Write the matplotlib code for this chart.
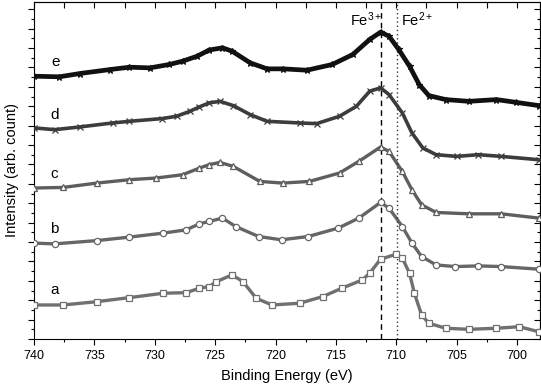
"""Fe 2p XPS spectra of samples a-e, stacked."""
import matplotlib.pyplot as plt
from matplotlib.ticker import MultipleLocator, NullFormatter

plt.rcParams["font.family"] = ["Liberation Sans", "DejaVu Sans"]
plt.rcParams["mathtext.default"] = "regular"

# binding energy (eV) and intensity (arb., offset)
be_a = [740.0, 737.6, 734.8, 732.1, 729.3, 727.4, 726.3, 725.5, 724.9, 723.6,
        722.7, 721.6, 720.3, 718.0, 716.1, 714.5, 712.8, 712.2, 711.3, 710.0,
        709.5, 708.9, 708.5, 707.9, 707.3, 705.9, 704.0, 701.7, 699.8, 698.2]
int_a = [3.51, 3.51, 3.85, 4.27, 4.72, 4.78, 5.24, 5.40, 5.92, 6.61,
         5.92, 4.20, 3.51, 3.69, 4.37, 5.24, 6.10, 6.79, 8.23, 8.75,
         8.34, 6.79, 4.72, 2.48, 1.62, 1.11, 1.00, 1.11, 1.27, 0.75]

be_b = [740.0, 738.3, 734.8, 732.1, 729.3, 727.4, 726.3, 725.5, 724.4, 723.3,
        721.4, 719.5, 717.3, 714.8, 713.1, 711.3, 710.6, 709.5, 708.7, 707.9,
        706.7, 705.1, 703.2, 701.3, 698.2]
int_b = [9.89, 9.81, 10.15, 10.51, 10.92, 11.26, 11.88, 12.12, 12.47, 11.60,
         10.57, 10.23, 10.57, 11.44, 12.47, 14.08, 13.50, 11.60, 9.89, 8.50,
         7.64, 7.47, 7.54, 7.47, 7.20]

be_c = [740.0, 737.6, 734.8, 732.1, 729.9, 727.7, 726.3, 725.5, 724.6, 723.5,
        721.3, 719.4, 717.2, 714.7, 713.1, 711.3, 710.6, 709.5, 708.7, 707.9,
        706.7, 704.0, 701.3, 698.2]
int_c = [15.57, 15.63, 16.08, 16.43, 16.60, 16.94, 17.63, 17.98, 18.21, 17.80,
         16.25, 16.08, 16.25, 17.12, 18.32, 19.80, 19.35, 17.28, 15.39, 13.84,
         13.05, 12.91, 12.91, 12.47]

be_d = [740.0, 738.3, 736.2, 733.5, 732.1, 729.4, 728.2, 727.1, 726.3, 725.5,
        724.6, 723.5, 722.1, 720.7, 718.0, 716.6, 714.7, 713.3, 712.2, 711.3,
        710.6, 709.5, 708.7, 707.8, 706.7, 705.0, 703.2, 701.3, 698.2]
int_d = [21.77, 21.59, 21.87, 22.28, 22.45, 22.73, 22.97, 23.48, 23.94, 24.35,
         24.51, 24.07, 23.14, 22.45, 22.28, 22.21, 22.97, 24.00, 25.55, 25.90,
         25.21, 23.32, 21.25, 19.70, 19.01, 18.83, 19.01, 18.83, 18.49]

be_e = [740.0, 737.9, 736.2, 733.7, 732.1, 730.4, 728.8, 727.7, 726.5, 725.5,
        724.4, 723.6, 722.1, 720.7, 719.4, 717.4, 715.3, 713.6, 712.2, 711.3,
        710.6, 709.8, 708.9, 708.1, 707.3, 705.9, 704.0, 701.7, 700.1, 698.2]
int_e = [27.10, 27.04, 27.38, 27.79, 28.03, 27.96, 28.31, 28.65, 29.16, 29.80,
         30.03, 29.68, 28.48, 27.86, 27.86, 27.72, 28.31, 29.34, 30.89, 31.64,
         31.23, 29.86, 28.13, 26.24, 25.10, 24.69, 24.51, 24.69, 24.41, 24.07]

sample_labels = ["a", "b", "c", "d", "e"]
label_pos = [(738.3, 5.1), (738.3, 11.3), (738.3, 17.0), (738.3, 23.1), (738.2, 28.6)]

fe3_energy = 711.3
fe2_energy = 709.9


def main():
    fig = plt.figure(figsize=(5.41, 3.87), dpi=100)
    ax = fig.add_axes([0.063, 0.124, 0.935, 0.872])

    series = [(be_a, int_a, "s", "#707070", 2.4),
              (be_b, int_b, "o", "#666666", 2.4),
              (be_c, int_c, "^", "#5e5e5e", 2.4),
              (be_d, int_d, "x", "#3c3c3c", 2.6),
              (be_e, int_e, "*", "#111111", 3.4)]
    for be, it, mk, col, lw in series:
        ax.plot(be, it, color=col, linewidth=lw, zorder=2,
                solid_capstyle="round", solid_joinstyle="round")
        ax.plot(be, it, linestyle="none", marker=mk, markersize=4.5,
                markerfacecolor="white" if mk in "so^" else col,
                markeredgecolor=col, markeredgewidth=0.9, zorder=3)

    for lab, (x, y) in zip(sample_labels, label_pos):
        ax.text(x, y, lab, fontsize=11, ha="center", va="center")

    ax.axvline(fe3_energy, color="black", linestyle=(0, (4, 3)), linewidth=1.0)
    ax.axvline(fe2_energy, color="#333333", linestyle=(0, (1, 2)), linewidth=1.0)
    ax.text(fe3_energy - 0.15, 32.9, "Fe$^{3+}$", fontsize=10.5, ha="right", va="center")
    ax.text(fe2_energy - 0.3, 32.9, "Fe$^{2+}$", fontsize=10.5, ha="left", va="center")

    ax.set_xlim(740, 698.1)
    ax.set_ylim(0, 34.8)
    ax.xaxis.set_major_locator(MultipleLocator(5))
    ax.xaxis.set_minor_locator(MultipleLocator(2.5))
    ax.yaxis.set_major_locator(MultipleLocator(2))
    ax.yaxis.set_minor_locator(MultipleLocator(1))
    ax.yaxis.set_major_formatter(NullFormatter())
    ax.tick_params(which="major", direction="out", length=4.5, width=0.8, labelsize=9)
    ax.tick_params(which="minor", direction="out", length=2.5, width=0.8)

    top = ax.secondary_xaxis("top")
    top.xaxis.set_major_locator(MultipleLocator(2.5))
    top.tick_params(direction="in", length=4, width=0.8, labeltop=False)
    right = ax.secondary_yaxis("right")
    right.yaxis.set_major_locator(MultipleLocator(2))
    right.yaxis.set_minor_locator(MultipleLocator(1))
    right.tick_params(which="major", direction="in", length=4.5, width=0.8, labelright=False)
    right.tick_params(which="minor", direction="in", length=2.5, width=0.8)

    ax.set_xlabel("Binding Energy (eV)", fontsize=10.5, labelpad=5)
    ax.set_ylabel("Intensity (arb. count)", fontsize=10.5, labelpad=3)

    fig.savefig("out.png", dpi=100)


if __name__ == "__main__":
    main()
